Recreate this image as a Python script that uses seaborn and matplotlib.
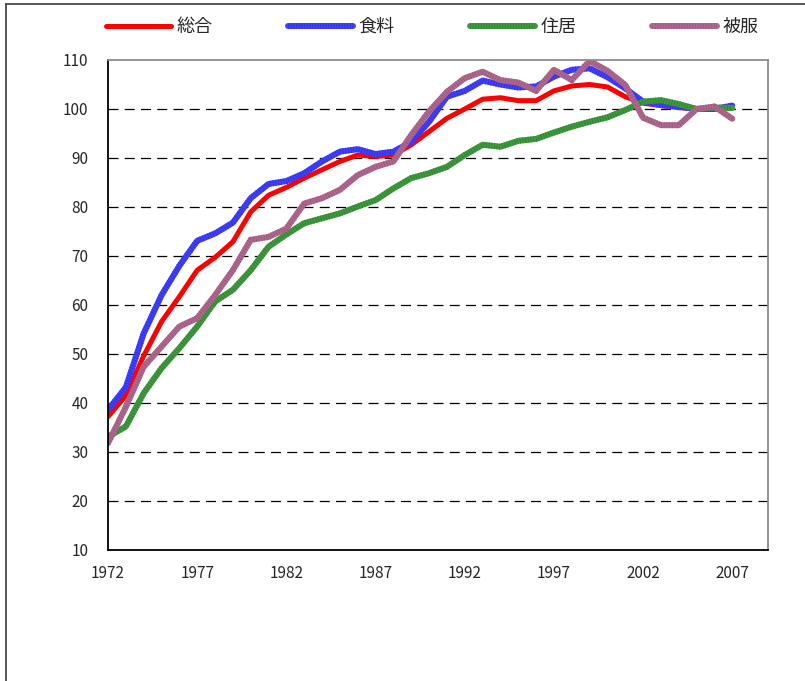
import numpy as np
import pandas as pd
import matplotlib
matplotlib.use('Agg')
import matplotlib.pyplot as plt
import seaborn as sns
from matplotlib.lines import Line2D

# =============================================================================
# Data
# =============================================================================
years = list(range(1972, 2008))

sogo = [37.2, 41.5, 49.6, 56.6, 61.7, 67.1, 69.7, 72.9, 79.0, 82.4,
        84.0, 85.9, 87.6, 89.3, 90.6, 90.3, 90.6, 92.7, 95.4, 98.1,
        100.0, 102.0, 102.3, 101.7, 101.7, 103.7, 104.7, 105.0, 104.5, 102.5,
        101.2, 100.7, 100.3, 100.0, 100.2, 100.2]

shokuryo = [38.6, 43.2, 54.2, 62.0, 68.0, 73.1, 74.6, 76.8, 81.8, 84.7,
            85.3, 86.9, 89.3, 91.3, 91.8, 90.8, 91.3, 93.3, 97.4, 102.5,
            103.7, 105.8, 105.0, 104.4, 104.6, 106.6, 108.0, 108.3, 106.5, 104.2,
            101.5, 100.8, 100.5, 100.0, 100.0, 100.7]

jukyo = [33.1, 35.2, 42.0, 47.1, 51.2, 55.6, 60.7, 63.1, 67.1, 71.9,
         74.4, 76.7, 77.7, 78.7, 80.1, 81.4, 83.8, 85.9, 86.9, 88.2,
         90.6, 92.7, 92.3, 93.5, 93.9, 95.2, 96.4, 97.4, 98.3, 99.8,
         101.5, 101.8, 101.0, 100.0, 100.3, 100.2]

hifuku = [31.8, 39.2, 47.4, 51.5, 55.6, 57.3, 62.0, 67.1, 73.3, 73.9,
          75.6, 80.7, 81.8, 83.5, 86.5, 88.2, 89.3, 94.7, 99.5, 103.5,
          106.3, 107.6, 105.9, 105.4, 103.7, 108.0, 105.9, 109.8, 107.8, 104.9,
          98.2, 96.7, 96.7, 100.0, 100.5, 98.0]

series_names = ['総合', '食料', '住居', '被服']
base_colors = ['#FF0000', '#4040FF', '#3D9B3D', '#B0688F']
stripe_colors = [None, '#3030E8', '#318431', '#9E587F']

df = pd.DataFrame({'year': years * 4,
                   'value': sogo + shokuryo + jukyo + hifuku,
                   'series': sum([[n] * len(years) for n in series_names], [])})

# =============================================================================
# Plot
# =============================================================================
sns.set_style('white')
plt.rcParams['font.family'] = ['Noto Sans CJK JP', 'DejaVu Sans']

fig = plt.figure(figsize=(8.05, 6.81), dpi=100)
ax = fig.add_axes([108/805, 1-550/681, (768-108)/805, (550-60)/681])

stripe = (0, (0.15, 0.3))
handles = []
for name, c, sc in zip(series_names, base_colors, stripe_colors):
    sub = df[df['series'] == name]
    lw = 3.6 if sc is None else 4.3
    sns.lineplot(data=sub, x='year', y='value', color=c, lw=lw, ax=ax,
                 legend=False)
    h = [Line2D([], [], color=c, lw=lw)]
    if sc is not None:
        # striped look like the Excel pattern line
        sns.lineplot(data=sub, x='year', y='value', color=sc, lw=lw, ax=ax,
                     linestyle=stripe, dash_capstyle='butt', legend=False)
        h.append(Line2D([], [], color=sc, lw=lw, linestyle=stripe,
                        dash_capstyle='butt'))
    handles.append(tuple(h))

ax.set_xlim(1972, 2009)
ax.set_ylim(10, 110)
ax.set_xticks(range(1972, 2008, 5))
ax.set_yticks(range(10, 111, 10))
ax.set_xlabel('')
ax.set_ylabel('')
ax.tick_params(axis='both', direction='in', length=5, width=1, color='black',
               labelsize=11)
ax.tick_params(axis='y', pad=14)
ax.tick_params(axis='x', pad=11)

ax.grid(axis='y', color='black', linestyle=(0, (8, 5)), linewidth=0.9)
ygrid = ax.yaxis.get_gridlines()
ygrid[0].set_visible(False)
ygrid[-1].set_visible(False)
ax.set_axisbelow(True)

for s in ['left', 'bottom']:
    ax.spines[s].set_color('black')
    ax.spines[s].set_linewidth(1.3)
for s in ['top', 'right']:
    ax.spines[s].set_color('#8c8c8c')
    ax.spines[s].set_linewidth(1.3)

fig.legend(handles, series_names, loc='center', bbox_to_anchor=(0.537, 1-27/681),
           ncol=4, frameon=False, fontsize=13, handlelength=3.6,
           handletextpad=0.3, columnspacing=4.2)

# chart area frame (left and top edges visible in the reference)
fig.add_artist(Line2D([6/805, 6/805], [0, 1-4/681], transform=fig.transFigure,
                      color='#3a3a3a', lw=1.2))
fig.add_artist(Line2D([6/805, 1], [1-4/681, 1-4/681], transform=fig.transFigure,
                      color='#3a3a3a', lw=1.2))

plt.savefig('out.png', dpi=100)
